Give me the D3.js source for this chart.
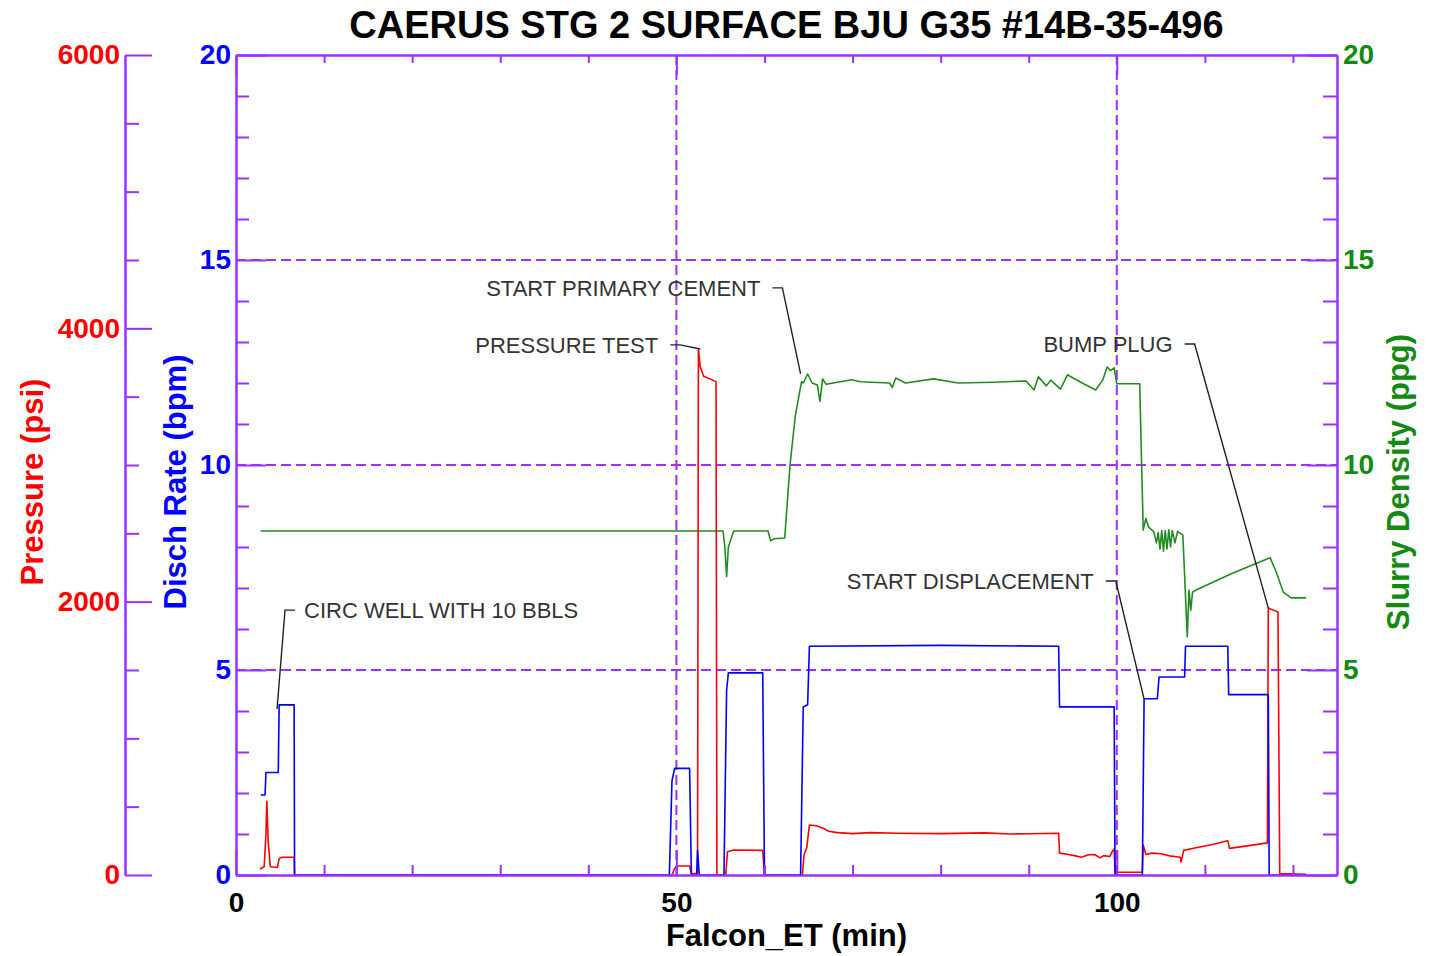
<!DOCTYPE html>
<html>
<head>
<meta charset="utf-8">
<script src="https://cdn.jsdelivr.net/npm/d3@7"></script>
<style>
  body { margin: 0; background: #fff; }
  text { font-family: "Liberation Sans", Arial, sans-serif; }
  .title { font-size: 38px; font-weight: bold; fill: #000; }
  .label { font-size: 31px; font-weight: bold; }
  .tick text { font-size: 28px; font-weight: bold; font-family: "Liberation Sans", Arial, sans-serif; }
  .note { font-size: 22px; fill: #333; }
</style>
</head>
<body>
<div class="svg-container"></div>
<script>
var height = 956;
var width = 1435;

var padding = { "top": 55, "right": 98, "bottom": 81, "left": 236 };

var purple = "#9b30ff";

// Falcon_ET (min) , value pairs
var rateData = [[2.8,1.95],[3.3,1.95],[3.4,2.5],[4.8,2.5],[4.9,4.15],[6.6,4.15],[6.65,0],
  [49.2,0],[49.5,2.3],[49.8,2.6],[51.5,2.6],[51.7,0],[52.3,0],[52.4,0.6],[52.6,0],
  [55.4,0],[55.7,4.5],[55.9,4.93],[59.8,4.93],[60.0,0],[64.1,0],[64.4,4.1],[64.9,4.15],
  [65.1,5.58],[80,5.6],[93.4,5.58],[93.5,4.1],[99.7,4.1],[99.8,0],[102.9,0],[103.1,4.3],
  [104.6,4.3],[104.8,4.83],[107.7,4.83],[107.8,5.58],[112.6,5.58],[112.7,4.4],[117.2,4.4],
  [117.3,0],[121.5,0]];

var pressureData = [[2.7,44],[3.2,60],[3.4,300],[3.5,540],[3.65,250],[3.9,60],[4.7,55],
  [4.9,120],[5.2,130],[6.6,130],[6.65,0],[49.5,0],[49.8,50],[50.2,66],[51.5,66],[51.7,10],
  [52.4,10],[52.5,3850],[52.7,3720],[53.1,3650],[54.5,3610],[54.6,0],[55.6,0],[55.8,170],
  [56.5,183],[59.8,180],[60.0,0],[64.3,0],[64.5,150],[64.8,200],[65.1,366],[65.9,360],
  [66.6,344],[67.3,320],[68.3,310],[70,303],[72,310],[75,305],[80,303],[85,308],[88,300],
  [90,302],[93.4,305],[93.5,160],[94.5,150],[95.3,140],[96,130],[96.8,148],[97.5,150],
  [98.1,125],[98.5,142],[99.2,135],[99.5,175],[99.7,190],[99.8,20],[102.9,20],[103.0,220],
  [103.3,150],[104,160],[105,155],[106,140],[107.2,130],[107.3,95],[107.6,180],[109,200],
  [111,225],[112.6,250],[112.8,195],[115,215],[117.1,235],[117.2,1953],[118.3,1925],
  [118.5,10],[121.5,5]];

var densityData = [[2.8,8.39],[55.3,8.39],[55.5,8.0],[55.7,7.28],[55.9,8.0],[56.5,8.39],
  [60.4,8.39],[60.7,8.15],[61.1,8.2],[62.3,8.22],[62.9,10.0],[63.5,11.2],[64.2,12.03],
  [64.4,12.0],[64.9,12.22],[65.4,12.0],[66.0,11.95],[66.3,11.55],[66.6,12.1],[67.0,11.97],
  [69.9,12.08],[70.9,12.03],[74.2,12.0],[74.5,11.89],[74.9,12.12],[76,12.0],[79.2,12.1],
  [82,12.0],[86,12.02],[89.7,12.05],[90.6,11.83],[91.1,12.15],[92.0,11.93],[92.5,12.07],
  [93.6,11.85],[94.4,12.2],[95.9,12.02],[97.6,11.83],[98.4,12.07],[98.9,12.39],[99.3,12.3],
  [99.7,12.37],[100,11.98],[102.6,11.98],[103.0,8.41],[103.3,8.7],[103.6,8.49],[104.2,8.37],
  [104.5,8.1],[104.7,8.35],[104.9,7.95],[105.1,8.4],[105.3,7.9],[105.5,8.4],[105.7,7.95],
  [105.9,8.42],[106.1,8.0],[106.3,8.4],[106.6,8.1],[106.9,8.38],[107.5,8.29],[108.0,5.81],
  [108.2,6.95],[108.4,6.46],[108.6,6.9],[109.0,6.95],[113,7.35],[117.4,7.74],[118.1,7.39],
  [118.9,6.9],[119.8,6.76],[121.5,6.76]];

var xMajor = [0, 50, 100];
var xMinor = [10, 20, 30, 40, 60, 70, 80, 90, 110, 120];
var rateMajor = [0, 5, 10, 15, 20];
var rateMinor = [1, 2, 3, 4, 6, 7, 8, 9, 11, 12, 13, 14, 16, 17, 18, 19];
var pressureMajor = [0, 2000, 4000, 6000];
var pressureMinor = [500, 1000, 1500, 2500, 3000, 3500, 4500, 5000, 5500];
var gridX = [50, 100];
var gridY = [5, 10, 15];

// annotations: label, side of text, anchor [min, bpm], target [min, bpm]
var noteLabels = ["CIRC WELL WITH 10 BBLS", "PRESSURE TEST", "START PRIMARY CEMENT", "BUMP PLUG", "START DISPLACEMENT"];
var noteSides = ["right", "left", "left", "left", "left"];
var noteAnchors = [[6.7, 6.46], [49.3, 12.93], [60.9, 14.32], [107.7, 12.95], [98.75, 7.17]];
var noteTargets = [[4.66, 4.05], [52.7, 12.83], [64.1, 12.22], [117.2, 6.51], [103.1, 4.29]];

var innerW = width - padding.left - padding.right;
var innerH = height - padding.top - padding.bottom;

var svg = d3.select(".svg-container")
              .append("svg")
              .attr("height", height)
              .attr("width", width);

var g = svg.append("g")
              .attr("transform", "translate(" + padding.left + "," + padding.top + ")");

var scaleX = d3.scaleLinear().domain([0, 125]).range([0, innerW]);
var scaleRate = d3.scaleLinear().domain([0, 20]).range([innerH, 0]);
var scaleP = d3.scaleLinear().domain([0, 6000]).range([innerH, 0]);
var scaleD = d3.scaleLinear().domain([0, 20]).range([innerH, 0]);

drawGrid();
drawLine(densityData, scaleD, "#228b22");
drawLine(pressureData, scaleP, "#ff0000");
drawLine(rateData, scaleRate, "#0000ff");
drawAxes();
drawNotes();
labels();

function drawGrid() {
    g.selectAll(".gridx")
        .data(gridX)
        .enter()
        .append("line")
        .attr("x1", function(d) { return scaleX(d) })
        .attr("x2", function(d) { return scaleX(d) })
        .attr("y1", 0)
        .attr("y2", innerH)
        .attr("stroke", purple)
        .attr("stroke-width", 2)
        .attr("stroke-dasharray", "10,5");

    g.selectAll(".gridy")
        .data(gridY)
        .enter()
        .append("line")
        .attr("x1", 0)
        .attr("x2", innerW)
        .attr("y1", function(d) { return scaleRate(d) })
        .attr("y2", function(d) { return scaleRate(d) })
        .attr("stroke", purple)
        .attr("stroke-width", 2)
        .attr("stroke-dasharray", "10,5");
};

function drawLine(dataset, yScale, stroke) {
    var valueline = d3.line()
                     .x(function(d) { return scaleX(d[0]) })
                     .y(function(d) { return yScale(d[1]) });

    g.append("path")
        .datum(dataset)
        .attr("fill", "none")
        .attr("stroke", stroke)
        .attr("stroke-width", 1.6)
        .attr("stroke-linejoin", "round")
        .attr("d", valueline);
};

function styleAxis(sel, color) {
    sel.selectAll("path, line").attr("stroke", purple).attr("stroke-width", 2);
    sel.selectAll("text").attr("fill", color);
};

function drawAxes() {
    // bottom / top x axes
    var xb = g.append("g").attr("transform", "translate(0," + innerH + ")");
    xb.call(d3.axisBottom(scaleX).tickValues(xMinor).tickSize(-10).tickFormat("").tickSizeOuter(0));
    xb.call(function(s) { styleAxis(s, "#000") });
    var xb2 = g.append("g").attr("transform", "translate(0," + innerH + ")");
    xb2.call(d3.axisBottom(scaleX).tickValues(xMajor).tickSize(-25).tickPadding(17).tickSizeOuter(0));
    xb2.call(function(s) { styleAxis(s, "#000") });
    xb2.selectAll("text").attr("dy", "0.71em");

    var xt = g.append("g");
    xt.call(d3.axisTop(scaleX).tickValues(xMinor).tickSize(-8).tickFormat("").tickSizeOuter(0));
    xt.call(function(s) { styleAxis(s, "#000") });
    var xt2 = g.append("g");
    xt2.call(d3.axisTop(scaleX).tickValues(xMajor).tickSize(-20).tickFormat("").tickSizeOuter(0));
    xt2.call(function(s) { styleAxis(s, "#000") });

    // disch rate axis
    var yl = g.append("g");
    yl.call(d3.axisLeft(scaleRate).tickValues(rateMinor).tickSize(-13).tickFormat("").tickSizeOuter(0));
    yl.call(function(s) { styleAxis(s, "#0000ff") });
    var yl2 = g.append("g");
    yl2.call(d3.axisLeft(scaleRate).tickValues(rateMajor).tickSize(-30).tickPadding(5).tickSizeOuter(0));
    yl2.call(function(s) { styleAxis(s, "#0000ff") });

    // pressure axis, detached on the left
    var yp = g.append("g").attr("transform", "translate(-111,0)");
    yp.call(d3.axisLeft(scaleP).tickValues(pressureMinor).tickSize(-14).tickFormat("").tickSizeOuter(0));
    yp.call(function(s) { styleAxis(s, "#ff0000") });
    var yp2 = g.append("g").attr("transform", "translate(-111,0)");
    yp2.call(d3.axisLeft(scaleP).tickValues(pressureMajor).tickSize(-27).tickPadding(5)
              .tickFormat(d3.format("d")).tickSizeOuter(0));
    yp2.call(function(s) { styleAxis(s, "#ff0000") });

    // slurry density axis
    var yr = g.append("g").attr("transform", "translate(" + innerW + ",0)");
    yr.call(d3.axisRight(scaleD).tickValues(rateMinor).tickSize(-14).tickFormat("").tickSizeOuter(0));
    yr.call(function(s) { styleAxis(s, "#138a13") });
    var yr2 = g.append("g").attr("transform", "translate(" + innerW + ",0)");
    yr2.call(d3.axisRight(scaleD).tickValues(rateMajor).tickSize(-30).tickPadding(6).tickSizeOuter(0));
    yr2.call(function(s) { styleAxis(s, "#138a13") });
};

function drawNotes() {
    noteLabels.forEach(function(label, i) {
        var ax = scaleX(noteAnchors[i][0]);
        var ay = scaleRate(noteAnchors[i][1]);
        var tx = scaleX(noteTargets[i][0]);
        var ty = scaleRate(noteTargets[i][1]);
        var dir = noteSides[i] == "right" ? -1 : 1;

        g.append("path")
            .attr("d", "M" + ax + "," + ay + "L" + (ax + dir * 10) + "," + ay + "L" + tx + "," + ty)
            .attr("fill", "none")
            .attr("stroke", "#222")
            .attr("stroke-width", 1.4);

        g.append("text")
            .attr("class", "note")
            .attr("x", noteSides[i] == "right" ? ax + 9 : ax - 12)
            .attr("y", ay + 8)
            .attr("text-anchor", noteSides[i] == "right" ? "start" : "end")
            .text(label);
    });
};

function labels() {
    svg.append("text")
        .attr("class", "title")
        .attr("x", padding.left + innerW / 2)
        .attr("y", 38)
        .attr("text-anchor", "middle")
        .text("CAERUS STG 2 SURFACE BJU G35 #14B-35-496");

    svg.append("text")
        .attr("class", "label")
        .attr("x", padding.left + innerW / 2)
        .attr("y", 946)
        .attr("text-anchor", "middle")
        .attr("fill", "#000")
        .text("Falcon_ET (min)");

    svg.append("text")
        .attr("class", "label")
        .attr("transform", "translate(43,482) rotate(-90)")
        .attr("text-anchor", "middle")
        .attr("fill", "#ff0000")
        .text("Pressure (psi)");

    svg.append("text")
        .attr("class", "label")
        .attr("transform", "translate(186,482) rotate(-90)")
        .attr("text-anchor", "middle")
        .attr("fill", "#0000ff")
        .text("Disch Rate (bpm)");

    svg.append("text")
        .attr("class", "label")
        .attr("transform", "translate(1409,482) rotate(-90)")
        .attr("text-anchor", "middle")
        .attr("fill", "#138a13")
        .text("Slurry Density (ppg)");
};
</script>
</body>
</html>
